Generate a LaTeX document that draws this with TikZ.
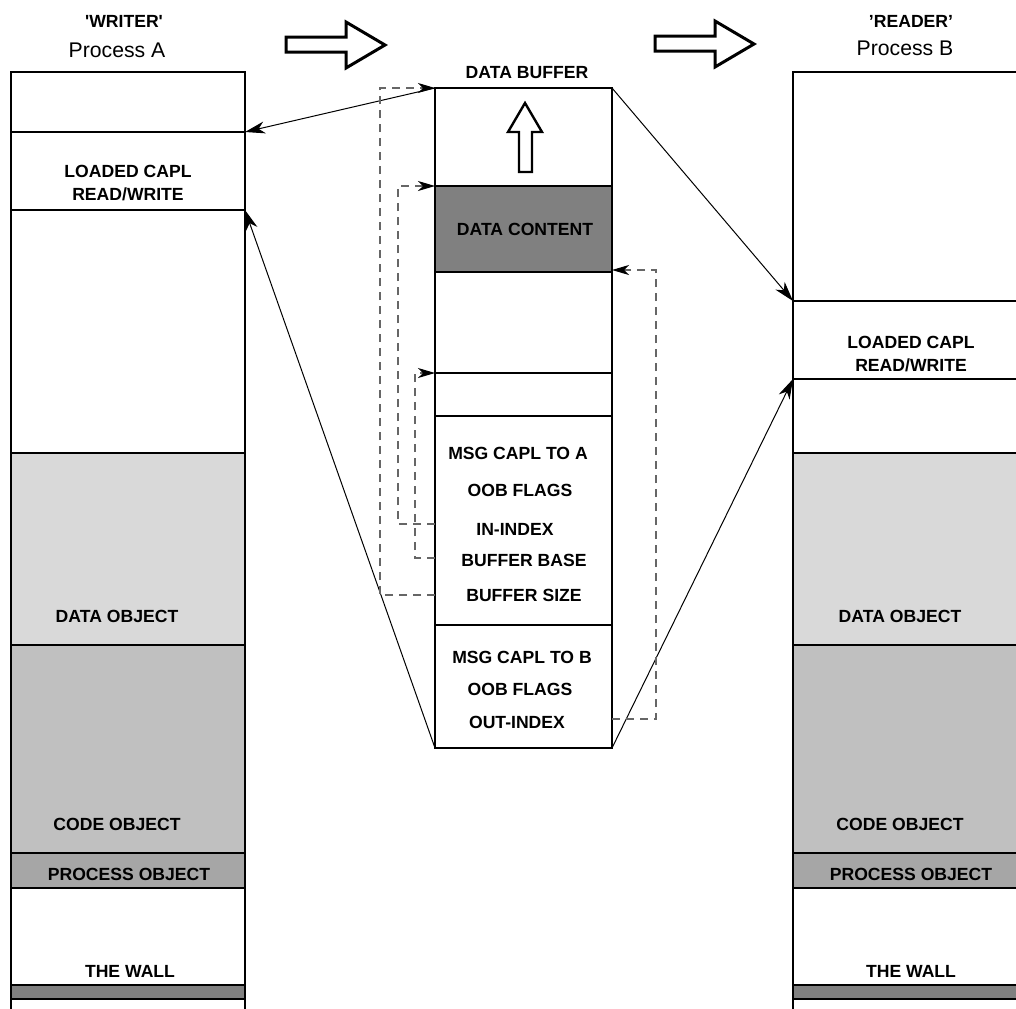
\documentclass[tikz,border=0pt]{standalone}
\usepackage{fontspec}
\setmainfont{Liberation Sans}
\usetikzlibrary{arrows.meta,fit}
\definecolor{datagray}{HTML}{D9D9D9}
\definecolor{codegray}{HTML}{C0C0C0}
\definecolor{procgray}{HTML}{A6A6A6}
\definecolor{darkband}{HTML}{808080}
\begin{document}
\begin{tikzpicture}[x=0.5pt,y=-0.5pt,
  region/.style={draw=black, line width=0.55pt, inner sep=0pt, outer sep=0pt},
  lbl/.style={font=\bfseries\fontsize{8.8}{11.5}\selectfont, inner sep=0pt, align=center},
  ttl/.style={font=\fontsize{10.6}{13}\selectfont, inner sep=0pt},
  conn/.style={line width=0.5pt, -{Stealth[length=10pt,width=6pt,inset=3pt]}},
  ptr/.style={draw=black!60, line width=0.55pt, dash pattern=on 4pt off 3pt, -{Stealth[length=8.5pt,width=5pt,inset=2.5pt,black]}},
  blockarrow/.style={draw=black, line width=1.5pt, fill=white, line join=miter}
]
\useasboundingbox (0,0) rectangle (1016,1008);
\fill[white] (0,0) rectangle (1016,1008);
\clip (0,0) rectangle (1016,1008);

% ---------- Process A (writer) ----------
\node[ttl, font=\bfseries\fontsize{8.8}{11}\selectfont] (writer) at (124,21) {\textquotesingle WRITER\textquotesingle};
\node[ttl] (procA) at (117,50) {Process A};
\node[region, fit={(11,72) (245,132)}] (atop) {};
\node[region, fit={(11,132) (245,210)}] (acapl) {};
\node[region, fit={(11,210) (245,453)}] (afree) {};
\node[region, fill=datagray, fit={(11,453) (245,645)}] (adata) {};
\node[region, fill=codegray, fit={(11,645) (245,853)}] (acode) {};
\node[region, fill=procgray, fit={(11,853) (245,888)}] (aproc) {};
\node[region, fit={(11,888) (245,985)}] (awall) {};
\node[region, fill=darkband, fit={(11,985) (245,999)}] (aband) {};
\node[region, fit={(11,999) (245,1040)}] (abase) {};
\node[lbl] (acaplT) at (128,183) {LOADED CAPL\\READ/WRITE};
\node[lbl] (adataT) at (117,616) {DATA OBJECT};
\node[lbl] (acodeT) at (117,824) {CODE OBJECT};
\node[lbl] (aprocT) at (129,874) {PROCESS OBJECT};
\node[lbl] (awallT) at (130,971) {THE WALL};

% ---------- Process B (reader) ----------
\node[ttl, font=\bfseries\fontsize{8.8}{11}\selectfont] (reader) at (911,21) {’READER’};
\node[ttl] (procB) at (905,48) {Process B};
\node[region, fit={(793,72) (1027,301)}] (btop) {};
\node[region, fit={(793,301) (1027,379)}] (bcapl) {};
\node[region, fit={(793,379) (1027,453)}] (bfree) {};
\node[region, fill=datagray, fit={(793,453) (1027,645)}] (bdata) {};
\node[region, fill=codegray, fit={(793,645) (1027,853)}] (bcode) {};
\node[region, fill=procgray, fit={(793,853) (1027,888)}] (bproc) {};
\node[region, fit={(793,888) (1027,985)}] (bwall) {};
\node[region, fill=darkband, fit={(793,985) (1027,999)}] (bband) {};
\node[region, fit={(793,999) (1027,1040)}] (bbase) {};
\node[lbl] (bcaplT) at (911,354) {LOADED CAPL\\READ/WRITE};
\node[lbl] (bdataT) at (900,616) {DATA OBJECT};
\node[lbl] (bcodeT) at (900,824) {CODE OBJECT};
\node[lbl] (bprocT) at (911,874) {PROCESS OBJECT};
\node[lbl] (bwallT) at (911,971) {THE WALL};

% ---------- Data buffer ----------
\node[lbl] (bufT) at (527,73) {DATA BUFFER};
\node[region, fit={(435,88) (612,186)}] (buftop) {};
\node[region, fill=darkband, fit={(435,186) (612,272)}] (content) {};
\node[region, fit={(435,272) (612,373)}] (buffree) {};
\node[region, line width=0.8pt, fit={(435,373) (612,416)}] (slot) {};
\node[region, fit={(435,416) (612,625)}] (msga) {};
\node[region, fit={(435,625) (612,748)}] (msgb) {};
\node[lbl] (contentT) at (525,229) {DATA CONTENT};
\node[lbl] (msgaT) at (518,453) {MSG CAPL TO A};
\node[lbl] (oobaT) at (520,490) {OOB FLAGS};
\node[lbl] (inT) at (515,529) {IN-INDEX};
\node[lbl] (baseT) at (524,560) {BUFFER BASE};
\node[lbl] (sizeT) at (524,595) {BUFFER SIZE};
\node[lbl] (msgbT) at (522,657) {MSG CAPL TO B};
\node[lbl] (oobbT) at (520,689) {OOB FLAGS};
\node[lbl] (outT) at (517,722) {OUT-INDEX};

% block arrows
\draw[blockarrow] (286,37) -- (346,37) -- (346,22) -- (385,45) -- (346,68) -- (346,52) -- (286,52) -- cycle;
\draw[blockarrow] (655,36) -- (715,36) -- (715,21) -- (754,44) -- (715,67) -- (715,51) -- (655,51) -- cycle;
\draw[blockarrow, line width=1.2pt] (519,172) -- (519,132) -- (508,132) -- (525,103) -- (542,132) -- (532,132) -- (532,172) -- cycle;

% solid connectors
\draw[conn] (buftop.north west) -- (acapl.north east);
\draw[conn] (msgb.south west) -- (acapl.south east);
\draw[conn] (buftop.north east) -- (bcapl.north west);
\draw[conn] (msgb.south east) -- (bcapl.south west);

% dashed pointers
\coordinate (inRow) at (435,524);
\coordinate (baseRow) at (435,558);
\coordinate (sizeRow) at (435,595);
\coordinate (outRow) at (612,719);
\draw[ptr] (sizeRow) -- ++(-55,0) |- (buftop.north west);
\draw[ptr] (inRow) -- ++(-37,0) |- (content.north west);
\draw[ptr] (baseRow) -- ++(-20,0) |- (slot.north west);
\draw[ptr] (outRow) -- ++(44,0) |- ([yshift=1pt]content.south east);
\end{tikzpicture}
\end{document}
